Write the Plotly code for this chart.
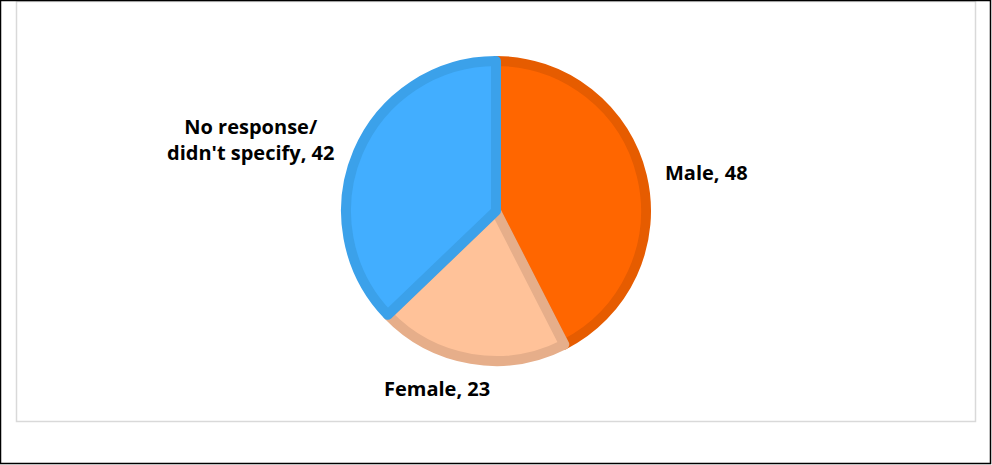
import plotly.graph_objects as go

labels = ["Male", "Female", "No response/ didn't specify"]
values = [48, 23, 42]
fill_colors = ["#FF6600", "#FFC299", "#42AEFF"]
line_colors = ["#E65C00", "#E6AE8A", "#3BA1EA"]

W, H = 992, 465

def px_x(x):
    return x / W

def px_y(y):
    return 1 - y / H

cx, cy, r = 496, 211, 150

fig = go.Figure(go.Pie(
    labels=labels,
    values=values,
    sort=False,
    direction="clockwise",
    rotation=0,
    textinfo="none",
    hoverinfo="label+value",
    marker=dict(colors=fill_colors, line=dict(color=line_colors, width=10)),
    domain=dict(x=[px_x(cx - r), px_x(cx + r)], y=[px_y(cy + r), px_y(cy - r)]),
    showlegend=False,
))

font = dict(family="'Open Sans', sans-serif", size=20, color="#000000")
label_pos = [
    (663, 172, "left", "middle"),
    (437, 388, "center", "middle"),
    (336, 139, "right", "middle"),
]
for lab, val, (x, y, xa, ya) in zip(labels, values, label_pos):
    txt = lab.replace("/ ", "/<br>") + ", " + str(val)
    fig.add_annotation(
        x=px_x(x), y=px_y(y), xref="paper", yref="paper",
        text="<b>" + txt + "</b>", showarrow=False,
        xanchor=xa, yanchor=ya, align="center" if "<br>" in txt else xa,
        font=font,
    )

fig.update_layout(
    width=W, height=H,
    margin=dict(l=0, r=0, t=0, b=0),
    paper_bgcolor="white", plot_bgcolor="white",
    shapes=[
        dict(type="rect", xref="paper", yref="paper",
             x0=px_x(16.5), x1=px_x(975.5), y0=px_y(421.5), y1=px_y(1.5),
             line=dict(color="#D9D9D9", width=1.5)),
        dict(type="rect", xref="paper", yref="paper",
             x0=px_x(0.5), x1=px_x(990.5), y0=px_y(463.5), y1=px_y(0.5),
             line=dict(color="#000000", width=1.5)),
    ],
)

fig.write_html("out.html", config={"displayModeBar": False})
with open("out.html", encoding="utf-8") as f:
    html = f.read()
html = html.replace("<head>", "<head><style>html,body{margin:0;padding:0;overflow:hidden;}</style>", 1)
with open("out.html", "w", encoding="utf-8") as f:
    f.write(html)
